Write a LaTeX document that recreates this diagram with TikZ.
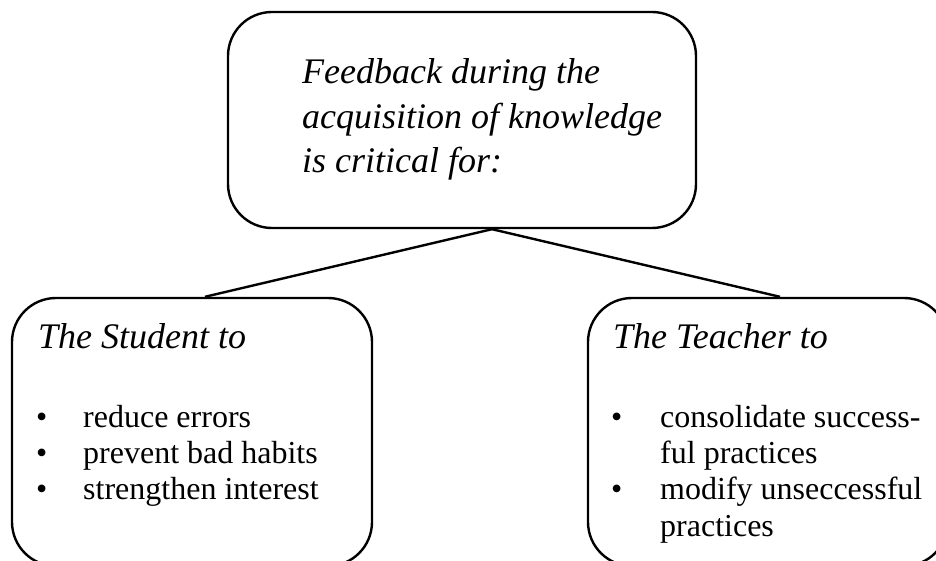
\documentclass[tikz,border=0pt]{standalone}
\usepackage{fontspec}
\setmainfont{Liberation Serif}
\usetikzlibrary{calc}

\begin{document}
\begin{tikzpicture}[x=1pt, y=-1pt,
  panel/.style={draw, line width=2.4pt, rounded corners=44pt, inner sep=0pt},
  link/.style={line width=2.4pt},
  lead/.style={anchor=base west, inner sep=0pt, font=\fontsize{36}{44}\selectfont\itshape},
  item/.style={anchor=base west, inner sep=0pt, font=\fontsize{32}{36}\selectfont},
  dot/.style={anchor=base west, inner sep=0pt, font=\fontsize{32}{36}\selectfont}]

  \useasboundingbox (0,0) rectangle (936,561);
  \clip (0,0) rectangle (936,561);

  % boxes
  \node[panel, minimum width=468pt, minimum height=216pt] (top) at (462,120) {};
  \node[panel, minimum width=360pt, minimum height=268pt] (student) at (192,432) {};
  \node[panel, minimum width=360pt, minimum height=268pt] (teacher) at (768,432) {};

  % connectors
  \coordinate (hub) at ($(top.south)+(30pt,0)$);
  \draw[link] (hub) -- ($(student.north)+(13pt,0)$);
  \draw[link] (hub) -- ($(teacher.north)+(12pt,0)$);

  % top box text
  \node[lead] (t1) at (302,84) {Feedback during the};
  \node[lead] (t2) at (302,128.5) {acquisition of knowledge};
  \node[lead] (t3) at (302,173) {is critical for:};

  % student box text
  \node[lead] (sh) at (38,348) {The Student to};
  \node[dot] (sb1) at (36,427) {•};
  \node[item] (s1) at (83,427) {reduce errors};
  \node[dot] (sb2) at (36,463.3) {•};
  \node[item] (s2) at (83,463.3) {prevent bad habits};
  \node[dot] (sb3) at (36,499.6) {•};
  \node[item] (s3) at (83,499.6) {strengthen interest};

  % teacher box text
  \node[lead] (th) at (613,348) {The Teacher to};
  \node[dot] (tb1) at (611,427) {•};
  \node[item] (r1) at (660,427) {consolidate success-};
  \node[item] (r1b) at (660,463.3) {ful practices};
  \node[dot] (tb2) at (611,499.6) {•};
  \node[item] (r2) at (660,499.6) {modify unseccessful};
  \node[item] (r2b) at (660,536) {practices};
\end{tikzpicture}
\end{document}
